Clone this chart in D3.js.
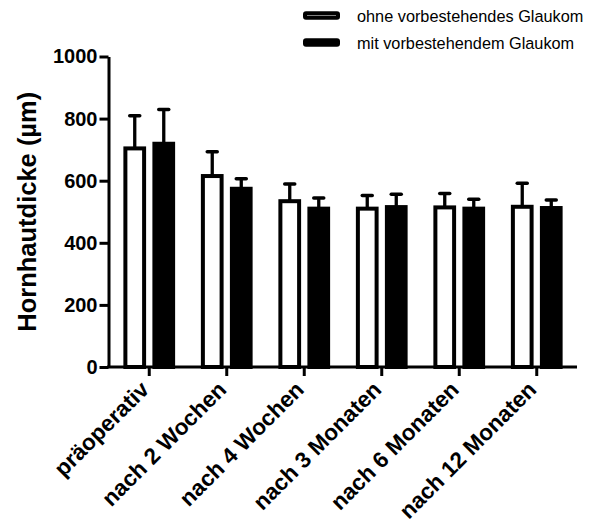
<!DOCTYPE html>
<html>
<head>
<meta charset="utf-8">
<script src="https://cdn.jsdelivr.net/npm/d3@7"></script>
<style>
  html, body { margin: 0; padding: 0; background: #fff; }
  svg { display: block; font-family: "Liberation Sans", Arial, sans-serif; }
</style>
</head>
<body>
<svg id="chart" width="591" height="532"></svg>
<script>
const categories = ["präoperativ", "nach 2 Wochen", "nach 4 Wochen", "nach 3 Monaten", "nach 6 Monaten", "nach 12 Monaten"];
const seriesNames = ["ohne vorbestehendes Glaukom", "mit vorbestehendem Glaukom"];
const ohneMean = [704, 615, 534, 510, 514, 516];
const ohneSD   = [105, 78, 55, 42, 45, 76];
const mitMean  = [719, 574, 510, 515, 510, 512];
const mitSD    = [110, 32, 34, 41, 30, 26];
const yTicks = [0, 200, 400, 600, 800, 1000];
const yTitle = "Hornhautdicke (µm)";

const svg = d3.select("#chart");
const y = d3.scaleLinear().domain([0, 1000]).range([367, 56.5]);
const x0 = d3.scaleBand().domain(categories).range([110.5, 575.5]).padding(0);
const x1 = d3.scaleBand().domain(seriesNames).range([0, x0.bandwidth()]).paddingInner(0.217).paddingOuter(0.444);

const data = categories.map((c, i) => ({
  cat: c,
  vals: [
    {s: seriesNames[0], m: ohneMean[i], sd: ohneSD[i], fill: "#fff"},
    {s: seriesNames[1], m: mitMean[i], sd: mitSD[i], fill: "#000"}
  ]
}));

const groups = svg.append("g").selectAll("g").data(data).join("g")
  .attr("transform", d => `translate(${x0(d.cat)},0)`);

const sw = 4;
groups.selectAll("rect").data(d => d.vals).join("rect")
  .attr("x", d => x1(d.s) + sw/2)
  .attr("width", x1.bandwidth() - sw)
  .attr("y", d => y(d.m))
  .attr("height", d => y(0) - y(d.m))
  .attr("fill", d => d.fill)
  .attr("stroke", "#000")
  .attr("stroke-width", sw);

// error bars (above)
groups.selectAll("line.stem").data(d => d.vals).join("line")
  .attr("class", "stem")
  .attr("x1", d => x1(d.s) + x1.bandwidth()/2)
  .attr("x2", d => x1(d.s) + x1.bandwidth()/2)
  .attr("y1", d => y(d.m))
  .attr("y2", d => y(d.m + d.sd))
  .attr("stroke", "#000").attr("stroke-width", 3.3);
groups.selectAll("line.cap").data(d => d.vals).join("line")
  .attr("class", "cap")
  .attr("x1", d => x1(d.s) + x1.bandwidth()/2 - 5)
  .attr("x2", d => x1(d.s) + x1.bandwidth()/2 + 5)
  .attr("y1", d => y(d.m + d.sd))
  .attr("y2", d => y(d.m + d.sd))
  .attr("stroke", "#000").attr("stroke-width", 3.5).attr("stroke-linecap", "round");

// Y axis
const yAxis = svg.append("g").attr("transform", "translate(108.5,0)")
  .call(d3.axisLeft(y).tickValues(yTicks).tickFormat(d3.format("d")).tickSize(9).tickPadding(2).tickSizeOuter(0));
yAxis.select(".domain").attr("stroke", "#000").attr("stroke-width", 3);
yAxis.selectAll(".tick line").attr("stroke", "#000").attr("stroke-width", 3);
yAxis.selectAll(".tick text").attr("font-size", "20px").attr("font-weight", "bold")
  .attr("fill", "#000").attr("font-family", "Liberation Sans, Arial, sans-serif");

// X axis
const xAxis = svg.append("g").attr("transform", `translate(0,${y(0)})`)
  .call(d3.axisBottom(x0).tickSize(9).tickSizeOuter(0).tickFormat(""));
xAxis.select(".domain").attr("d", "M107,0H577").attr("stroke", "#000").attr("stroke-width", 3);
xAxis.selectAll(".tick line").attr("stroke", "#000").attr("stroke-width", 3);

svg.append("g").selectAll("text").data(categories).join("text")
  .attr("transform", d => `translate(${x0(d) + x0.bandwidth()/2 + 1},391) rotate(-45)`)
  .attr("text-anchor", "end")
  .attr("font-size", "22.5px").attr("font-weight", "bold").attr("fill", "#000")
  .text(d => d);

// Y title
svg.append("text")
  .attr("transform", `translate(36,${(y(0)+y(1000))/2}) rotate(-90)`)
  .attr("text-anchor", "middle")
  .attr("font-size", "25.5px").attr("font-weight", "bold").attr("fill", "#000")
  .text(yTitle);

// Legend
const legend = svg.append("g").selectAll("g").data(seriesNames).join("g")
  .attr("transform", (d, i) => `translate(0,${i * 27})`);
legend.append("rect")
  .attr("x", 305).attr("y", 13.3).attr("width", 33).attr("height", 4.5).attr("rx", 1)
  .attr("fill", (d, i) => i === 0 ? "#fff" : "#000")
  .attr("stroke", "#000").attr("stroke-width", 4);
legend.append("text")
  .attr("x", 357).attr("y", 21.5)
  .attr("font-size", "16.3px").attr("fill", "#000")
  .text(d => d);
</script>
</body>
</html>
